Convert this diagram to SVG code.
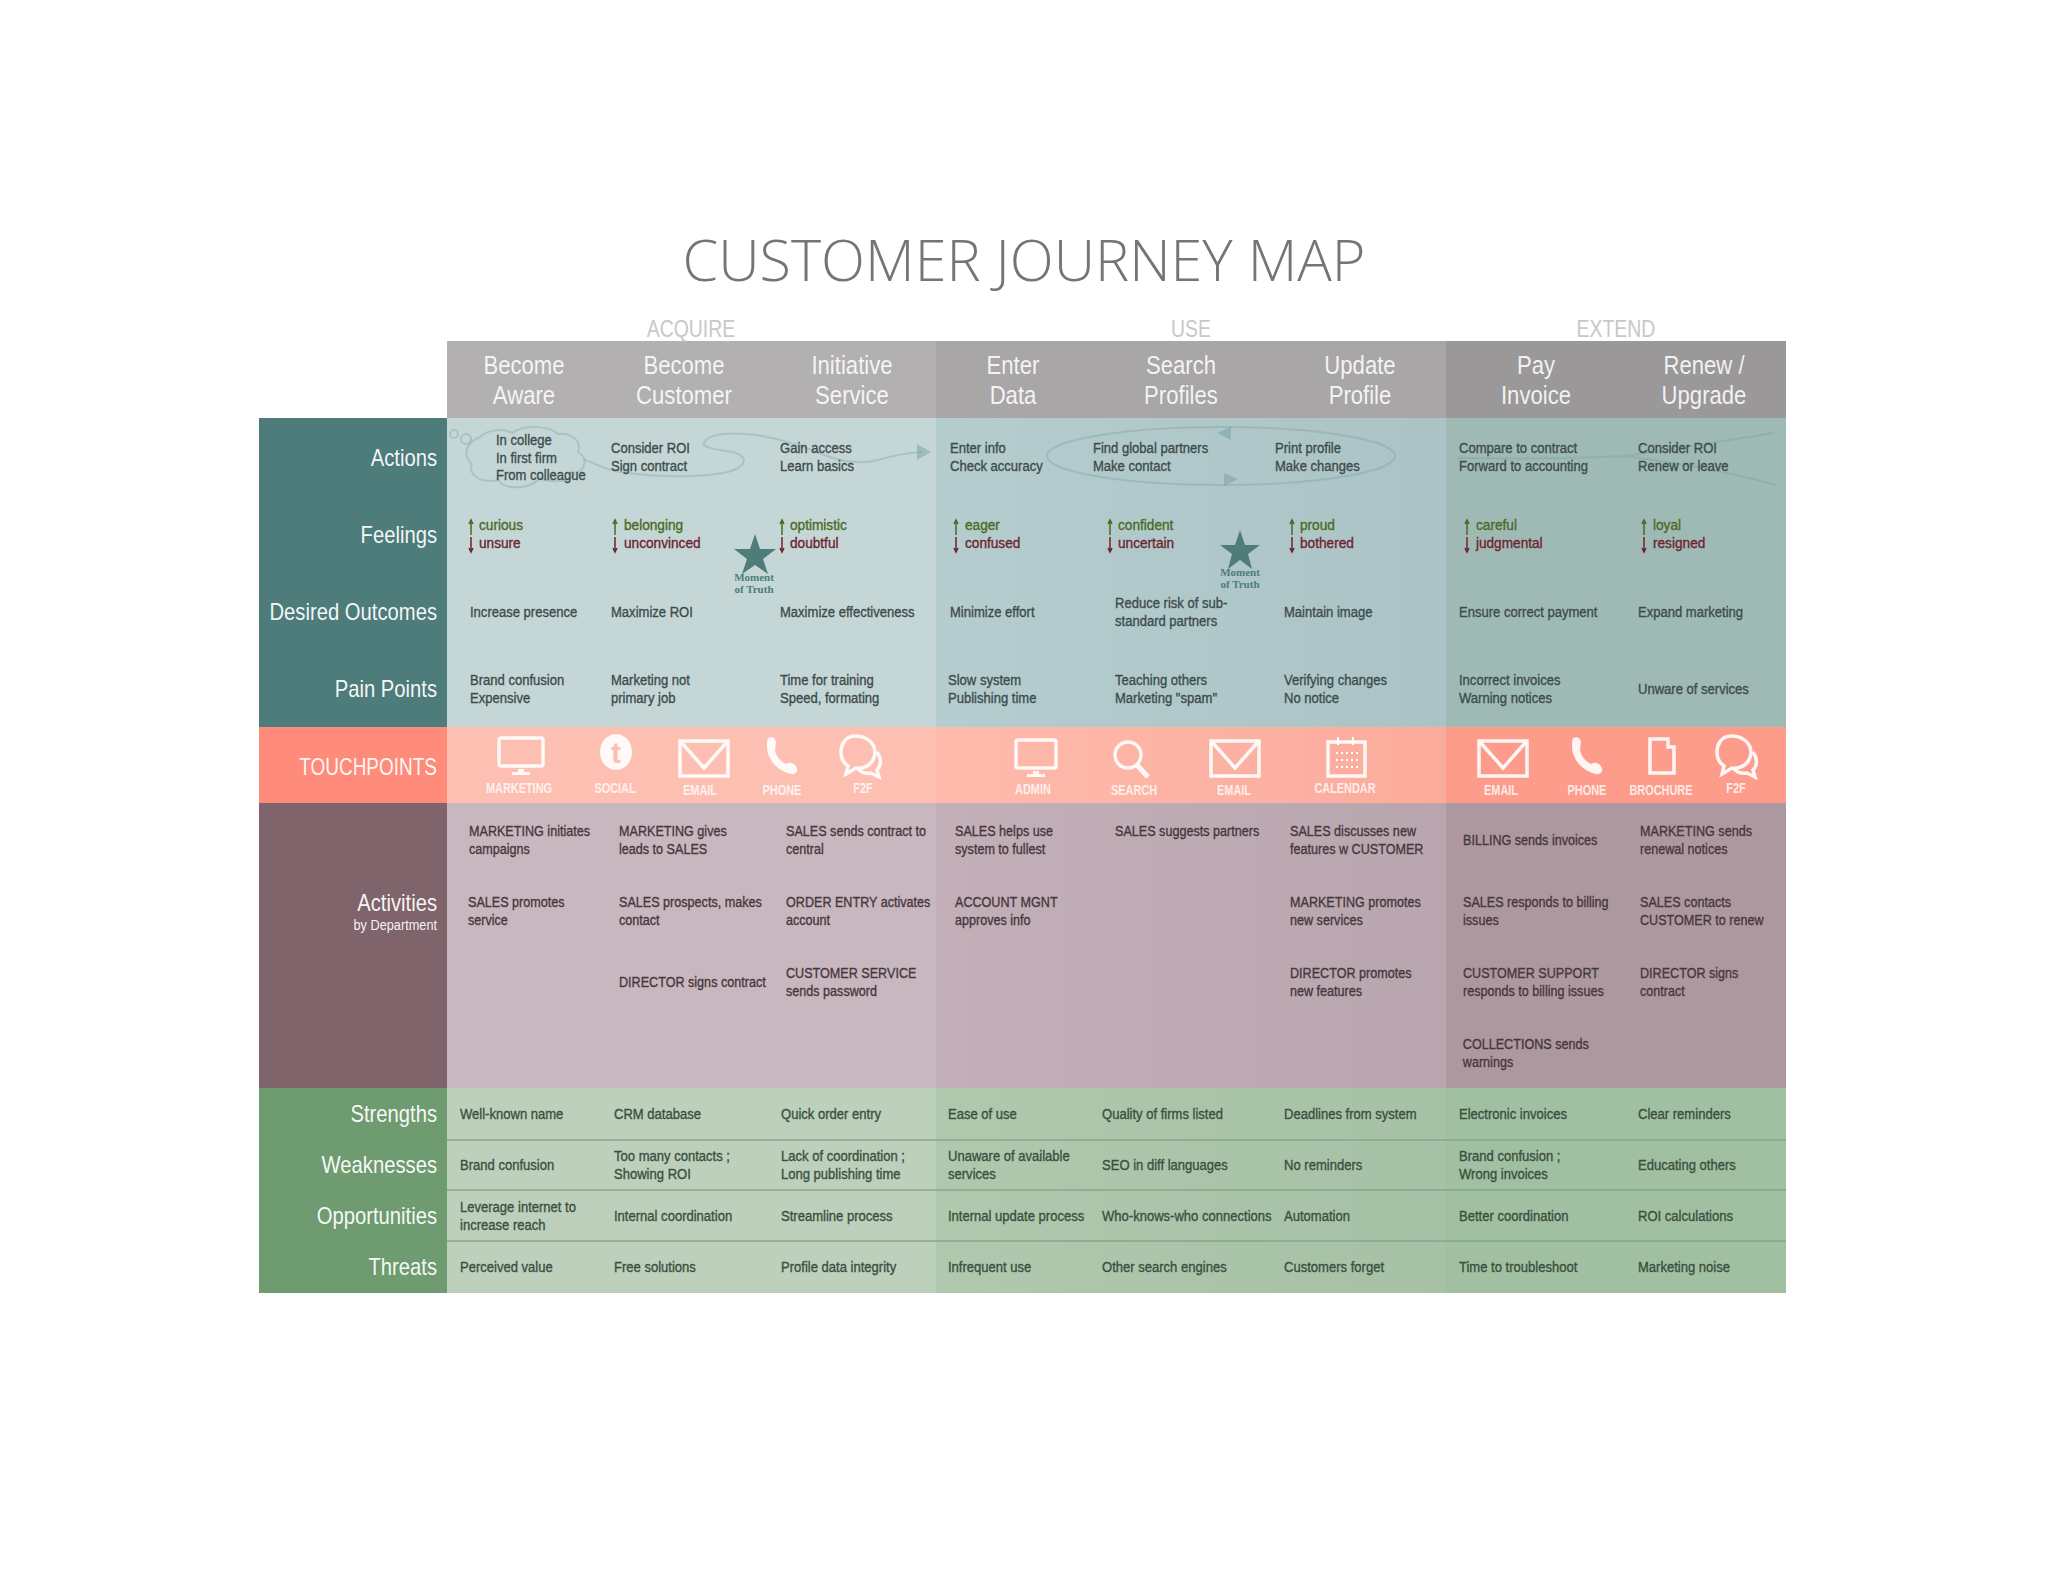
<svg xmlns="http://www.w3.org/2000/svg" width="2048" height="1582" viewBox="0 0 2048 1582">
<style>
text{font-family:"Liberation Sans",Arial,sans-serif;transform-box:fill-box}
.t,.a,.s,.up,.dn{font-size:15px;stroke-width:.35;transform-origin:0 50%;transform:scaleX(.87)}
.t{fill:#3d4b4b;stroke:#3d4b4b}
.a{fill:#46373d;stroke:#46373d;transform:scaleX(.84)}
.s{fill:#3a4f40;stroke:#3a4f40}
.up{fill:#4b6a22;stroke:#4b6a22;transform:scaleX(.91)}
.dn{fill:#6e2330;stroke:#6e2330;transform:scaleX(.91)}
.lab{font-size:23px;fill:#fff;text-anchor:end;fill-opacity:.95;transform-origin:100% 50%;transform:scaleX(.88)}
.hd{font-size:25px;fill:#fff;text-anchor:middle;fill-opacity:.88;transform-origin:50% 50%;transform:scaleX(.885)}
.sec{font-size:24px;fill:#c8c8c8;text-anchor:middle;transform-origin:50% 50%;transform:scaleX(.81)}
.tp{font-size:14px;fill:#fff;text-anchor:middle;fill-opacity:.8;font-weight:700;transform-origin:50% 50%;transform:scaleX(.78)}
.ic{fill:none;stroke:#fff;stroke-width:3.5;stroke-opacity:.9}
.fl{fill:#fff;fill-opacity:.9}
.flow{fill:none;stroke:#6f9a9a;stroke-width:2;stroke-opacity:.32}
.head{fill:#6f9a9a;fill-opacity:.45}
.mt{font-size:11px;fill:#4d7c7a;text-anchor:middle;font-weight:700;font-family:"Liberation Serif",serif}
.sep{stroke:#7f9f85;stroke-width:1.5;stroke-opacity:.8}
</style>
<defs>
<linearGradient id="u1" x1="0" x2="1" y1="0" y2="0"><stop offset="0" stop-color="#b5cdcf"/><stop offset="1" stop-color="#abc3c5"/></linearGradient>
<linearGradient id="u2" x1="0" x2="1" y1="0" y2="0"><stop offset="0" stop-color="#febbac"/><stop offset="1" stop-color="#fbab9c"/></linearGradient>
<linearGradient id="u3" x1="0" x2="1" y1="0" y2="0"><stop offset="0" stop-color="#c3afb8"/><stop offset="1" stop-color="#b8a5ad"/></linearGradient>
<linearGradient id="u4" x1="0" x2="1" y1="0" y2="0"><stop offset="0" stop-color="#b0c8ae"/><stop offset="1" stop-color="#a6c1a5"/></linearGradient>
<g id="mon"><rect x="-22" y="-17" width="44" height="28" rx="2" class="ic"/><rect x="-3" y="14" width="6" height="3" class="fl"/><rect x="-9" y="17" width="18" height="3" class="fl"/></g>
<g id="mon2"><rect x="-20" y="-17" width="40" height="28" rx="2" class="ic"/><rect x="-3" y="14" width="6" height="3" class="fl"/><rect x="-9" y="17" width="18" height="3" class="fl"/></g>
<g id="env"><rect x="-24" y="-17" width="48" height="35" class="ic"/><path d="M-23 -16L0 10L23 -16" class="ic"/></g>
<path id="ph" class="fl" d="M-14 -18C-9 -20 -7 -18 -6 -14L-7 -6C-6 0 -2 5 4 8C7 6 11 6 14 10C17 14 14 19 9 18C-5 15 -15 3 -15 -10C-15 -13 -15 -16 -14 -18Z"/>
<g id="chat"><path class="ic" d="M-6 -20C-16 -20 -20 -11 -20 -4C-20 4 -16 8 -13 10L-15 18L-5 12C4 13 13 8 14 -3C14 -13 6 -20 -6 -20Z"/><path class="ic" d="M16 -4C21 3 20 10 16 14L18 21L10 17C5 18 0 16 -3 13"/></g>
</defs>

<g id="title"><text x="1024" y="281" text-anchor="middle" style="font-family:'Open Sans','Liberation Sans',sans-serif;font-weight:300;font-size:57.5px;fill:#757575">CUSTOMER JOURNEY MAP</text></g>

<g id="bands">
<rect x="447" y="341" width="489" height="77" fill="#b2b0b0"/><rect x="936" y="341" width="510" height="77" fill="#a9a6a7"/><rect x="1446" y="341" width="340" height="77" fill="#9b9899"/>
<rect x="447" y="418" width="489" height="309" fill="#c5d6d6"/><rect x="936" y="418" width="510" height="309" fill="url(#u1)"/><rect x="1446" y="418" width="340" height="309" fill="#9fbab5"/>
<rect x="447" y="727" width="489" height="76" fill="#fdbfb2"/><rect x="936" y="727" width="510" height="76" fill="url(#u2)"/><rect x="1446" y="727" width="340" height="76" fill="#fd9c8b"/>
<rect x="447" y="803" width="489" height="285" fill="#c9b7bf"/><rect x="936" y="803" width="510" height="285" fill="url(#u3)"/><rect x="1446" y="803" width="340" height="285" fill="#ae989f"/>
<rect x="447" y="1088" width="489" height="205" fill="#bcd0bb"/><rect x="936" y="1088" width="510" height="205" fill="url(#u4)"/><rect x="1446" y="1088" width="340" height="205" fill="#a0c0a1"/>
<rect x="259" y="418" width="188" height="309" fill="#4d7c7a"/>
<rect x="259" y="727" width="188" height="76" fill="#ff8c7a"/>
<rect x="259" y="803" width="188" height="285" fill="#80646b"/>
<rect x="259" y="1088" width="188" height="205" fill="#6f9b70"/>
<path class="sep" d="M447 1140H1786M447 1190H1786M447 1241H1786"/>
</g>

<g id="sections"><text class="sec" x="691" y="337">ACQUIRE</text><text class="sec" x="1191" y="337">USE</text><text class="sec" x="1616" y="337">EXTEND</text></g>

<g id="row-labels">
<text class="lab" x="437" y="466">Actions</text>
<text class="lab" x="437" y="543">Feelings</text>
<text class="lab" x="437" y="620">Desired Outcomes</text>
<text class="lab" x="437" y="697">Pain Points</text>
<text class="lab" x="437" y="775" style="transform:scaleX(.825)">TOUCHPOINTS</text>
<text class="lab" x="437" y="911">Activities</text>
<text class="lab" x="437" y="930" style="font-size:14px;transform:scaleX(.91)">by Department</text>
<text class="lab" x="437" y="1122">Strengths</text>
<text class="lab" x="437" y="1173">Weaknesses</text>
<text class="lab" x="437" y="1224">Opportunities</text>
<text class="lab" x="437" y="1275">Threats</text>
</g>

<g id="stages">
<text class="hd" y="374"><tspan x="524">Become</tspan><tspan x="524" dy="30">Aware</tspan></text>
<text class="hd" y="374"><tspan x="684">Become</tspan><tspan x="684" dy="30">Customer</tspan></text>
<text class="hd" y="374"><tspan x="852">Initiative</tspan><tspan x="852" dy="30">Service</tspan></text>
<text class="hd" y="374"><tspan x="1013">Enter</tspan><tspan x="1013" dy="30">Data</tspan></text>
<text class="hd" y="374"><tspan x="1181">Search</tspan><tspan x="1181" dy="30">Profiles</tspan></text>
<text class="hd" y="374"><tspan x="1360">Update</tspan><tspan x="1360" dy="30">Profile</tspan></text>
<text class="hd" y="374"><tspan x="1536">Pay</tspan><tspan x="1536" dy="30">Invoice</tspan></text>
<text class="hd" y="374"><tspan x="1704">Renew /</tspan><tspan x="1704" dy="30">Upgrade</tspan></text>
</g>

<g id="connectors">
<circle cx="454" cy="434" r="4" class="flow"/><circle cx="466" cy="439" r="5" class="flow"/>
<path class="flow" d="M480 437C490 428 505 429 512 433C525 424 550 426 558 434C572 432 582 442 578 452C588 458 586 470 575 473C570 484 548 482 540 478C530 490 505 490 498 480C480 484 468 474 472 464C462 456 466 442 480 437Z"/>
<path class="flow" d="M584 460C595 462 600 469 620 472C660 478 700 477 723 473C748 468 750 456 732 452C712 449 700 447 705 441C712 434 730 433 745 434C770 435 800 445 830 457C850 464 865 463 878 460C895 455 905 453 922 452"/>
<path class="head" d="M917 444L931 452L917 460Z"/>
<ellipse cx="1221" cy="456" rx="174" ry="29" class="flow"/>
<path class="head" d="M1231 427L1217 433L1231 440Z"/><path class="head" d="M1224 473L1238 479L1224 486Z"/>
<path class="flow" d="M1457 458C1520 459 1580 458 1624 456C1670 450 1730 440 1773 433M1624 456C1670 462 1730 472 1776 485"/>
</g>

<g id="actions">
<text class="t" y="445"><tspan x="496">In college</tspan><tspan x="496" dy="17.7">In first firm</tspan><tspan x="496" dy="17.7">From colleague</tspan></text>
<text class="t" y="453"><tspan x="611">Consider ROI</tspan><tspan x="611" dy="17.7">Sign contract</tspan></text>
<text class="t" y="453"><tspan x="780">Gain access</tspan><tspan x="780" dy="17.7">Learn basics</tspan></text>
<text class="t" y="453"><tspan x="950">Enter info</tspan><tspan x="950" dy="17.7">Check accuracy</tspan></text>
<text class="t" y="453"><tspan x="1093">Find global partners</tspan><tspan x="1093" dy="17.7">Make contact</tspan></text>
<text class="t" y="453"><tspan x="1275">Print profile</tspan><tspan x="1275" dy="17.7">Make changes</tspan></text>
<text class="t" y="453"><tspan x="1459">Compare to contract</tspan><tspan x="1459" dy="17.7">Forward to accounting</tspan></text>
<text class="t" y="453"><tspan x="1638">Consider ROI</tspan><tspan x="1638" dy="17.7">Renew or leave</tspan></text>
</g>

<g id="feelings">
<path stroke="#4b6a22" stroke-width="1.5" fill="none" d="M471 535V521M469 524L471 520L473 524M615 535V521M613 524L615 520L617 524M782 535V521M780 524L782 520L784 524M956 535V521M954 524L956 520L958 524M1110 535V521M1108 524L1110 520L1112 524M1292 535V521M1290 524L1292 520L1294 524M1467 535V521M1465 524L1467 520L1469 524M1644 535V521M1642 524L1644 520L1646 524"/>
<path stroke="#6e2330" stroke-width="1.5" fill="none" d="M471 537V551M469 548L471 552L473 548M615 537V551M613 548L615 552L617 548M782 537V551M780 548L782 552L784 548M956 537V551M954 548L956 552L958 548M1110 537V551M1108 548L1110 552L1112 548M1292 537V551M1290 548L1292 552L1294 548M1467 537V551M1465 548L1467 552L1469 548M1644 537V551M1642 548L1644 552L1646 548"/>
<text class="up" x="479" y="530">curious</text><text class="dn" x="479" y="548">unsure</text>
<text class="up" x="624" y="530">belonging</text><text class="dn" x="624" y="548">unconvinced</text>
<text class="up" x="790" y="530">optimistic</text><text class="dn" x="790" y="548">doubtful</text>
<text class="up" x="965" y="530">eager</text><text class="dn" x="965" y="548">confused</text>
<text class="up" x="1118" y="530">confident</text><text class="dn" x="1118" y="548">uncertain</text>
<text class="up" x="1300" y="530">proud</text><text class="dn" x="1300" y="548">bothered</text>
<text class="up" x="1476" y="530">careful</text><text class="dn" x="1476" y="548">judgmental</text>
<text class="up" x="1653" y="530">loyal</text><text class="dn" x="1653" y="548">resigned</text>
</g>

<g id="moment-1"><path fill="#4d7c7a" d="M755 534L760 549L776 549L763 559L768 574L755 565L742 574L747 559L734 549L750 549Z"/><text class="mt" y="581"><tspan x="754">Moment</tspan><tspan x="754" dy="12">of Truth</tspan></text></g>
<g id="moment-2"><path fill="#4d7c7a" d="M1240 530L1245 545L1260 545L1248 554L1252 569L1240 560L1228 569L1232 554L1220 545L1235 545Z"/><text class="mt" y="576"><tspan x="1240">Moment</tspan><tspan x="1240" dy="12">of Truth</tspan></text></g>

<g id="outcomes">
<text class="t" x="470" y="617">Increase presence</text>
<text class="t" x="611" y="617">Maximize ROI</text>
<text class="t" x="780" y="617">Maximize effectiveness</text>
<text class="t" x="950" y="617">Minimize effort</text>
<text class="t" y="608"><tspan x="1115">Reduce risk of sub-</tspan><tspan x="1115" dy="17.7">standard partners</tspan></text>
<text class="t" x="1284" y="617">Maintain image</text>
<text class="t" x="1459" y="617">Ensure correct payment</text>
<text class="t" x="1638" y="617">Expand marketing</text>
</g>

<g id="pain-points">
<text class="t" y="685"><tspan x="470">Brand confusion</tspan><tspan x="470" dy="17.7">Expensive</tspan></text>
<text class="t" y="685"><tspan x="611">Marketing not</tspan><tspan x="611" dy="17.7">primary job</tspan></text>
<text class="t" y="685"><tspan x="780">Time for training</tspan><tspan x="780" dy="17.7">Speed, formating</tspan></text>
<text class="t" y="685"><tspan x="948">Slow system</tspan><tspan x="948" dy="17.7">Publishing time</tspan></text>
<text class="t" y="685"><tspan x="1115">Teaching others</tspan><tspan x="1115" dy="17.7">Marketing "spam"</tspan></text>
<text class="t" y="685"><tspan x="1284">Verifying changes</tspan><tspan x="1284" dy="17.7">No notice</tspan></text>
<text class="t" y="685"><tspan x="1459">Incorrect invoices</tspan><tspan x="1459" dy="17.7">Warning notices</tspan></text>
<text class="t" x="1638" y="694">Unware of services</text>
</g>

<g id="touchpoints">
<use href="#mon" x="521" y="755"/><text class="tp" x="519" y="793">MARKETING</text>
<ellipse cx="616" cy="752" rx="16" ry="18" class="fl"/><text x="616" y="763" text-anchor="middle" style="font-size:30px;font-weight:700;fill:#fdbfb2">t</text><text class="tp" x="615" y="793">SOCIAL</text>
<use href="#env" x="704" y="758"/><text class="tp" x="700" y="795">EMAIL</text>
<use href="#ph" x="782" y="756"/><text class="tp" x="782" y="795">PHONE</text>
<use href="#chat" x="861" y="756"/><text class="tp" x="863" y="793">F2F</text>
<use href="#mon2" x="1036" y="757"/><text class="tp" x="1033" y="794">ADMIN</text>
<g class="ic"><circle cx="1128" cy="755" r="13"/><path d="M1137 765L1148 777" stroke-width="5"/></g><text class="tp" x="1134" y="795">SEARCH</text>
<use href="#env" x="1235" y="758"/><text class="tp" x="1234" y="795">EMAIL</text>
<g><rect x="1328" y="742" width="37" height="34" class="ic"/><path stroke="#fff" stroke-width="2" stroke-dasharray="2 3" d="M1336 753H1358M1336 760H1358M1336 767H1358"/><path stroke="#fff" stroke-width="2" d="M1338 737V745M1353 737V745"/></g><text class="tp" x="1345" y="793">CALENDAR</text>
<use href="#env" x="1503" y="758"/><text class="tp" x="1501" y="795">EMAIL</text>
<use href="#ph" x="1587" y="756"/><text class="tp" x="1587" y="795">PHONE</text>
<path class="ic" d="M1650 773V739H1668V747H1674V773Z"/><text class="tp" x="1661" y="795">BROCHURE</text>
<use href="#chat" x="1737" y="756"/><text class="tp" x="1736" y="793">F2F</text>
</g>

<g id="activities">
<text class="a" y="836"><tspan x="469">MARKETING initiates</tspan><tspan x="469" dy="17.7">campaigns</tspan></text>
<text class="a" y="907"><tspan x="468">SALES promotes</tspan><tspan x="468" dy="17.7">service</tspan></text>
<text class="a" y="836"><tspan x="619">MARKETING gives</tspan><tspan x="619" dy="17.7">leads to SALES</tspan></text>
<text class="a" y="907"><tspan x="619">SALES prospects, makes</tspan><tspan x="619" dy="17.7">contact</tspan></text>
<text class="a" x="619" y="987">DIRECTOR signs contract</text>
<text class="a" y="836"><tspan x="786">SALES sends contract to</tspan><tspan x="786" dy="17.7">central</tspan></text>
<text class="a" y="907"><tspan x="786">ORDER ENTRY activates</tspan><tspan x="786" dy="17.7">account</tspan></text>
<text class="a" y="978"><tspan x="786">CUSTOMER SERVICE</tspan><tspan x="786" dy="17.7">sends password</tspan></text>
<text class="a" y="836"><tspan x="955">SALES helps use</tspan><tspan x="955" dy="17.7">system to fullest</tspan></text>
<text class="a" y="907"><tspan x="955">ACCOUNT MGNT</tspan><tspan x="955" dy="17.7">approves info</tspan></text>
<text class="a" x="1115" y="836">SALES suggests partners</text>
<text class="a" y="836"><tspan x="1290">SALES discusses new</tspan><tspan x="1290" dy="17.7">features w CUSTOMER</tspan></text>
<text class="a" y="907"><tspan x="1290">MARKETING promotes</tspan><tspan x="1290" dy="17.7">new services</tspan></text>
<text class="a" y="978"><tspan x="1290">DIRECTOR promotes</tspan><tspan x="1290" dy="17.7">new features</tspan></text>
<text class="a" x="1463" y="845">BILLING sends invoices</text>
<text class="a" y="907"><tspan x="1463">SALES responds to billing</tspan><tspan x="1463" dy="17.7">issues</tspan></text>
<text class="a" y="978"><tspan x="1463">CUSTOMER SUPPORT</tspan><tspan x="1463" dy="17.7">responds to billing issues</tspan></text>
<text class="a" y="1049"><tspan x="1463">COLLECTIONS sends</tspan><tspan x="1463" dy="17.7">warnings</tspan></text>
<text class="a" y="836"><tspan x="1640">MARKETING sends</tspan><tspan x="1640" dy="17.7">renewal notices</tspan></text>
<text class="a" y="907"><tspan x="1640">SALES contacts</tspan><tspan x="1640" dy="17.7">CUSTOMER to renew</tspan></text>
<text class="a" y="978"><tspan x="1640">DIRECTOR signs</tspan><tspan x="1640" dy="17.7">contract</tspan></text>
</g>

<g id="swot">
<text class="s" x="460" y="1119">Well-known name</text>
<text class="s" x="614" y="1119">CRM database</text>
<text class="s" x="781" y="1119">Quick order entry</text>
<text class="s" x="948" y="1119">Ease of use</text>
<text class="s" x="1102" y="1119">Quality of firms listed</text>
<text class="s" x="1284" y="1119">Deadlines from system</text>
<text class="s" x="1459" y="1119">Electronic invoices</text>
<text class="s" x="1638" y="1119">Clear reminders</text>
<text class="s" x="460" y="1170">Brand confusion</text>
<text class="s" y="1161"><tspan x="614">Too many contacts ;</tspan><tspan x="614" dy="17.7">Showing ROI</tspan></text>
<text class="s" y="1161"><tspan x="781">Lack of coordination ;</tspan><tspan x="781" dy="17.7">Long publishing time</tspan></text>
<text class="s" y="1161"><tspan x="948">Unaware of available</tspan><tspan x="948" dy="17.7">services</tspan></text>
<text class="s" x="1102" y="1170">SEO in diff languages</text>
<text class="s" x="1284" y="1170">No reminders</text>
<text class="s" y="1161"><tspan x="1459">Brand confusion ;</tspan><tspan x="1459" dy="17.7">Wrong invoices</tspan></text>
<text class="s" x="1638" y="1170">Educating others</text>
<text class="s" y="1212"><tspan x="460">Leverage internet to</tspan><tspan x="460" dy="17.7">increase reach</tspan></text>
<text class="s" x="614" y="1221">Internal coordination</text>
<text class="s" x="781" y="1221">Streamline process</text>
<text class="s" x="948" y="1221">Internal update process</text>
<text class="s" x="1102" y="1221">Who-knows-who connections</text>
<text class="s" x="1284" y="1221">Automation</text>
<text class="s" x="1459" y="1221">Better coordination</text>
<text class="s" x="1638" y="1221">ROI calculations</text>
<text class="s" x="460" y="1272">Perceived value</text>
<text class="s" x="614" y="1272">Free solutions</text>
<text class="s" x="781" y="1272">Profile data integrity</text>
<text class="s" x="948" y="1272">Infrequent use</text>
<text class="s" x="1102" y="1272">Other search engines</text>
<text class="s" x="1284" y="1272">Customers forget</text>
<text class="s" x="1459" y="1272">Time to troubleshoot</text>
<text class="s" x="1638" y="1272">Marketing noise</text>
</g>
</svg>
